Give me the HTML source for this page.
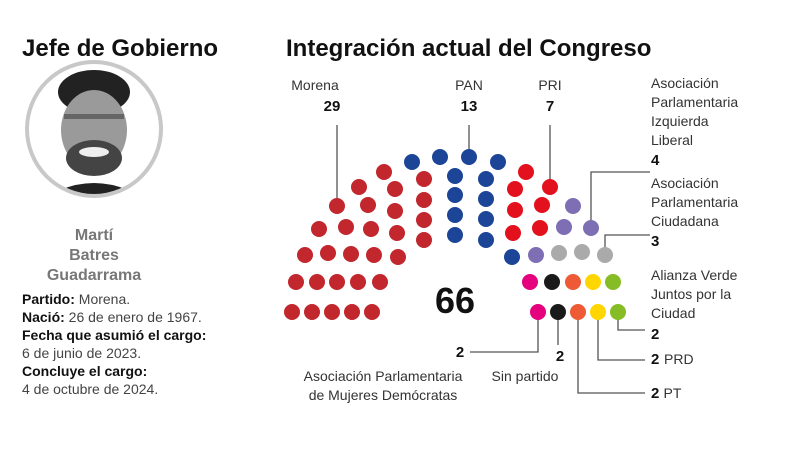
<!DOCTYPE html>
<html><head><meta charset="utf-8"><style>
body{margin:0;width:800px;height:450px;background:#fff;overflow:hidden;font-family:"Liberation Sans",sans-serif}
</style></head><body>
<svg width="800" height="450" xmlns="http://www.w3.org/2000/svg" font-family="Liberation Sans, sans-serif">
<text x="22" y="56" font-size="24" font-weight="bold" fill="#111">Jefe de Gobierno</text>
<text x="286" y="56" font-size="24" font-weight="bold" fill="#111">Integración actual del Congreso</text>
<!-- photo -->
<circle cx="94" cy="129" r="67" fill="#fff" stroke="#c8c8c8" stroke-width="4"/>
<clipPath id="c"><circle cx="94" cy="129" r="65"/></clipPath>
<g clip-path="url(#c)">
<path d="M55,200 L60,190 Q94,176 128,190 L133,200 Z" fill="#222"/>
<ellipse cx="94" cy="92" rx="36" ry="22" fill="#222"/>
<ellipse cx="94" cy="130" rx="33" ry="40" fill="#9a9a9a"/>
<ellipse cx="94" cy="158" rx="28" ry="18" fill="#444"/>
<ellipse cx="94" cy="152" rx="15" ry="5" fill="#eee"/>
<rect x="64" y="114" width="60" height="5" fill="#666"/>
</g>
<g text-anchor="middle" font-weight="bold" font-size="16" fill="#777">
<text x="94" y="240">Martí</text><text x="94" y="260">Batres</text><text x="94" y="280">Guadarrama</text></g>
<g font-size="14" fill="#111">
<text x="22" y="304"><tspan font-weight="bold">Partido:</tspan><tspan fill="#444"> Morena.</tspan></text>
<text x="22" y="322"><tspan font-weight="bold">Nació:</tspan><tspan fill="#444"> 26 de enero de 1967.</tspan></text>
<text x="22" y="340" font-weight="bold">Fecha que asumió el cargo:</text>
<text x="22" y="358" fill="#444">6 de junio de 2023.</text>
<text x="22" y="376" font-weight="bold">Concluye el cargo:</text>
<text x="22" y="394" fill="#444">4 de octubre de 2024.</text>
</g>
<!-- leader lines -->
<g stroke="#555" stroke-width="1.3" fill="none">
<path d="M337,125 V205"/><path d="M469,125 V155"/><path d="M550,125 V186"/>
<path d="M591,227 V172 H650"/><path d="M605,254 V235 H650"/>
<path d="M538,312 V352 H470"/><path d="M558,312 V345"/>
<path d="M578,312 V393 H645"/><path d="M598,312 V360 H645"/><path d="M618,312 V330 H645"/>
</g>
<g font-size="14" fill="#333">
<text x="315" y="90" text-anchor="middle">Morena</text>
<text x="469" y="90" text-anchor="middle">PAN</text>
<text x="550" y="90" text-anchor="middle">PRI</text>
<text x="651" y="88">Asociación</text><text x="651" y="107">Parlamentaria</text><text x="651" y="126">Izquierda</text><text x="651" y="145">Liberal</text>
<text x="651" y="188">Asociación</text><text x="651" y="207">Parlamentaria</text><text x="651" y="226">Ciudadana</text>
<text x="651" y="280">Alianza Verde</text><text x="651" y="299">Juntos por la</text><text x="651" y="318">Ciudad</text>
<text x="383" y="381" text-anchor="middle">Asociación Parlamentaria</text>
<text x="383" y="400" text-anchor="middle">de Mujeres Demócratas</text>
<text x="525" y="381" text-anchor="middle">Sin partido</text>
<text x="664" y="364">PRD</text>
</g>
<g font-size="15" font-weight="bold" fill="#111">
<text x="332" y="111" text-anchor="middle">29</text>
<text x="469" y="111" text-anchor="middle">13</text>
<text x="550" y="111" text-anchor="middle">7</text>
<text x="651" y="165">4</text><text x="651" y="246">3</text><text x="651" y="339">2</text>
<text x="651" y="364">2</text><text x="651" y="398">2 <tspan font-weight="normal" fill="#333" font-size="14">PT</tspan></text>
<text x="460" y="357" text-anchor="middle">2</text><text x="560" y="361" text-anchor="middle">2</text>
</g>
<text x="455" y="313" font-size="36" font-weight="bold" text-anchor="middle" fill="#111">66</text>
<g fill="#c1272d">
<circle cx="292" cy="312" r="8"/><circle cx="312" cy="312" r="8"/><circle cx="332" cy="312" r="8"/><circle cx="352" cy="312" r="8"/><circle cx="372" cy="312" r="8"/>
<circle cx="296" cy="282" r="8"/><circle cx="317" cy="282" r="8"/><circle cx="337" cy="282" r="8"/><circle cx="358" cy="282" r="8"/><circle cx="380" cy="282" r="8"/>
<circle cx="305" cy="255" r="8"/><circle cx="328" cy="253" r="8"/><circle cx="351" cy="254" r="8"/><circle cx="374" cy="255" r="8"/><circle cx="398" cy="257" r="8"/>
<circle cx="319" cy="229" r="8"/><circle cx="346" cy="227" r="8"/><circle cx="371" cy="229" r="8"/><circle cx="397" cy="233" r="8"/>
<circle cx="337" cy="206" r="8"/><circle cx="368" cy="205" r="8"/><circle cx="395" cy="211" r="8"/>
<circle cx="359" cy="187" r="8"/><circle cx="395" cy="189" r="8"/><circle cx="384" cy="172" r="8"/>
<circle cx="424" cy="179" r="8"/><circle cx="424" cy="200" r="8"/><circle cx="424" cy="220" r="8"/><circle cx="424" cy="240" r="8"/>
</g>
<g fill="#1c4597">
<circle cx="412" cy="162" r="8"/><circle cx="440" cy="157" r="8"/><circle cx="469" cy="157" r="8"/><circle cx="498" cy="162" r="8"/>
<circle cx="455" cy="176" r="8"/><circle cx="455" cy="195" r="8"/><circle cx="455" cy="215" r="8"/><circle cx="455" cy="235" r="8"/>
<circle cx="486" cy="179" r="8"/><circle cx="486" cy="199" r="8"/><circle cx="486" cy="219" r="8"/><circle cx="486" cy="240" r="8"/>
<circle cx="512" cy="257" r="8"/>
</g>
<g fill="#e3101d">
<circle cx="526" cy="172" r="8"/><circle cx="550" cy="187" r="8"/><circle cx="515" cy="189" r="8"/><circle cx="542" cy="205" r="8"/>
<circle cx="515" cy="210" r="8"/><circle cx="540" cy="228" r="8"/><circle cx="513" cy="233" r="8"/>
</g>
<g fill="#7e6fb4"><circle cx="573" cy="206" r="8"/><circle cx="564" cy="227" r="8"/><circle cx="591" cy="228" r="8"/><circle cx="536" cy="255" r="8"/></g>
<g fill="#aaa"><circle cx="559" cy="253" r="8"/><circle cx="582" cy="252" r="8"/><circle cx="605" cy="255" r="8"/></g>
<circle cx="530" cy="282" r="8" fill="#e5007e"/><circle cx="552" cy="282" r="8" fill="#1a1a1a"/><circle cx="573" cy="282" r="8" fill="#ee5a35"/><circle cx="593" cy="282" r="8" fill="#ffd600"/><circle cx="613" cy="282" r="8" fill="#86bc25"/>
<circle cx="538" cy="312" r="8" fill="#e5007e"/><circle cx="558" cy="312" r="8" fill="#1a1a1a"/><circle cx="578" cy="312" r="8" fill="#ee5a35"/><circle cx="598" cy="312" r="8" fill="#ffd600"/><circle cx="618" cy="312" r="8" fill="#86bc25"/>
</svg>
</body></html>
